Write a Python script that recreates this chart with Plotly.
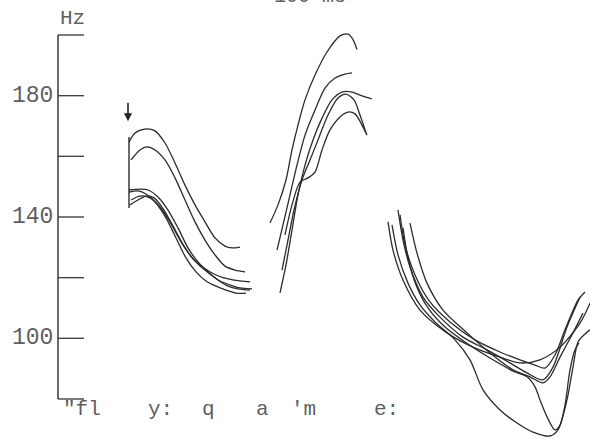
import plotly.graph_objects as go

# Time axis: ms-like units measured from the Hz axis; F0 in Hz
# Segment 1 ("fly:")
seg1_t = [
    [71, 77, 87, 97, 107, 117, 127, 137, 147, 157, 167, 174, 182],
    [73, 82, 89, 97, 107, 117, 127, 137, 147, 157, 167, 177, 187],
    [71, 82, 90, 100, 110, 120, 130, 140, 150, 160, 170, 180, 192],
    [71, 80, 88, 98, 108, 118, 128, 138, 148, 158, 168, 178, 188],
    [72, 80, 88, 96, 106, 116, 126, 136, 146, 156, 166, 176, 192],
    [73, 82, 92, 102, 112, 122, 132, 142, 152, 162, 172, 182, 194],
]
seg1_f = [
    [164.7, 167.7, 169.0, 168.4, 164.4, 157.8, 150.5, 144.0, 138.4, 133.1, 130.4, 129.8, 130.1],
    [158.8, 162.1, 163.1, 162.1, 158.8, 152.9, 145.6, 138.4, 132.4, 127.5, 123.8, 122.5, 121.9],
    [148.9, 149.2, 148.9, 146.6, 142.3, 136.4, 129.8, 125.2, 121.9, 119.2, 117.2, 116.3, 115.9],
    [148.2, 148.6, 147.6, 144.6, 139.7, 133.1, 126.5, 121.9, 118.9, 117.2, 115.9, 114.9, 114.9],
    [144.0, 145.6, 146.9, 146.3, 142.3, 136.4, 130.4, 125.8, 123.2, 121.2, 119.9, 119.2, 118.6],
    [145.6, 146.9, 146.3, 143.3, 138.4, 132.4, 127.5, 123.8, 121.2, 118.9, 117.6, 116.6, 116.3],
]
onset_t = [71, 71]
onset_f = [166.4, 143.0]

# Segment 2 ("game")
seg2_t = [
    [212, 220, 228, 234, 240, 247, 257, 269, 282, 290, 295, 299],
    [219, 225, 232, 239, 247, 257, 267, 277, 287, 294],
    [222, 228, 234, 240, 247, 255, 264, 274, 284, 294, 304, 314],
    [224, 230, 236, 244, 252, 260, 270, 280, 288, 296, 302, 308],
    [227, 234, 242, 250, 257, 264, 272, 282, 290, 297, 304, 309],
]
seg2_f = [
    [138.0, 144.0, 152.2, 162.1, 170.3, 178.6, 186.8, 194.4, 199.7, 200.3, 198.5, 195.2],
    [129.1, 137.4, 147.3, 157.1, 167.0, 175.3, 182.5, 185.8, 187.1, 187.5],
    [115.0, 124.2, 135.7, 147.3, 157.1, 165.4, 172.6, 178.6, 181.2, 181.2, 179.9, 178.9],
    [122.5, 132.4, 142.3, 152.2, 158.8, 165.4, 173.6, 179.2, 180.5, 178.6, 173.6, 167.7],
    [134.1, 144.0, 151.5, 152.9, 154.8, 162.1, 168.7, 173.0, 174.6, 174.0, 170.3, 167.0],
]

# Segment 3 ("me:")
seg3_t = [
    [340, 345, 352, 365, 382, 405, 429, 452, 469, 485, 495, 509, 522],
    [330, 335, 345, 362, 389, 415, 442, 462, 482, 502, 522, 532],
    [352, 359, 369, 385, 409, 432, 455, 472, 485, 492, 502, 515, 525],
    [334, 340, 350, 362, 377, 397, 412, 425, 442, 459, 475, 492, 500, 506, 510, 515, 520, 527, 532],
    [345, 350, 358, 370, 387, 407, 432, 457, 469, 477, 482, 489, 497, 502, 507, 512, 517, 521],
    [342, 347, 357, 372, 392, 417, 442, 462, 477, 487, 497, 507, 520, 527],
]
seg3_f = [
    [142.3, 132.4, 123.5, 113.6, 107.0, 100.4, 96.2, 91.9, 88.6, 86.3, 90.5, 103.7, 113.6],
    [138.4, 129.1, 119.2, 109.3, 101.8, 97.1, 93.8, 91.9, 92.9, 97.1, 105.0, 111.6],
    [138.0, 128.1, 118.2, 109.3, 101.8, 95.2, 89.6, 87.3, 85.3, 87.3, 93.8, 101.8, 108.3],
    [137.4, 127.5, 118.2, 111.0, 105.4, 99.5, 92.9, 83.0, 76.4, 72.1, 69.1, 67.8, 69.8, 75.7, 81.3, 90.5, 98.8, 101.4, 102.8],
    [136.4, 126.5, 117.6, 110.0, 103.7, 98.8, 93.5, 88.9, 87.3, 84.0, 79.7, 74.1, 69.8, 71.4, 78.0, 89.6, 96.2, 98.5],
    [140.7, 130.8, 120.9, 112.0, 105.4, 99.5, 95.5, 92.9, 91.2, 90.2, 94.5, 102.8, 112.6, 115.3],
]

ticks_hz = [80, 100, 120, 140, 160, 180, 200]
tick_labels = {180: "180", 140: "140", 100: "100"}
segment_labels = ['"fl', "y:", "q", "a", "'m", "e:"]
segment_label_t = [24, 102, 150, 204, 245, 328]

LINE = "#2b2b2b"
TXT = "#5f5f5f"
FONT = "Liberation Mono"

fig = go.Figure()
for tl, fl in [(seg1_t, seg1_f), (seg2_t, seg2_f), (seg3_t, seg3_f)]:
    for t, f in zip(tl, fl):
        fig.add_trace(go.Scatter(x=t, y=f, mode="lines",
                                 line=dict(color=LINE, width=1.3, shape="spline", smoothing=0.8),
                                 hoverinfo="skip", showlegend=False))
fig.add_trace(go.Scatter(x=onset_t, y=onset_f, mode="lines",
                         line=dict(color=LINE, width=1.4), hoverinfo="skip", showlegend=False))

shapes = [dict(type="line", x0=0, x1=0, y0=80, y1=200, xref="x", yref="y",
               line=dict(color="#444", width=1.6))]
for h in ticks_hz:
    shapes.append(dict(type="line", x0=0, x1=26, y0=h, y1=h, xref="x", yref="y",
                       line=dict(color="#444", width=1.4)))

ann = []
for h, s in tick_labels.items():
    ann.append(dict(x=-3, y=h, text=s, showarrow=False, xanchor="right", yanchor="middle",
                    font=dict(family=FONT, size=23, color=TXT)))
ann.append(dict(x=14, y=205.5, text="Hz", showarrow=False, xanchor="center", yanchor="middle",
                font=dict(family=FONT, size=21, color=TXT)))
for s, t in zip(segment_labels, segment_label_t):
    ann.append(dict(x=t, y=76.4, text=s, showarrow=False, xanchor="center", yanchor="middle",
                    font=dict(family=FONT, size=21, color=TXT)))
ann.append(dict(x=252, y=1.0, xref="x", yref="paper", text="100 ms", showarrow=False,
                xanchor="center", yanchor="bottom", yshift=-10,
                font=dict(family=FONT, size=20, color=TXT)))
# arrow marking onset
ann.append(dict(x=70, y=171.6, ax=0, ay=-20, text="", showarrow=True, arrowhead=2,
                arrowsize=1, arrowwidth=1.6, arrowcolor="#222"))

fig.update_layout(
    width=590, height=439,
    margin=dict(l=0, r=0, t=0, b=0),
    paper_bgcolor="white", plot_bgcolor="white",
    xaxis=dict(range=[-58, 532], visible=False),
    yaxis=dict(range=[66.81, 211.54], visible=False),
    shapes=shapes, annotations=ann,
)
fig.write_html("out.html", config={"displayModeBar": False},
               post_script="document.body.style.margin='0';")
